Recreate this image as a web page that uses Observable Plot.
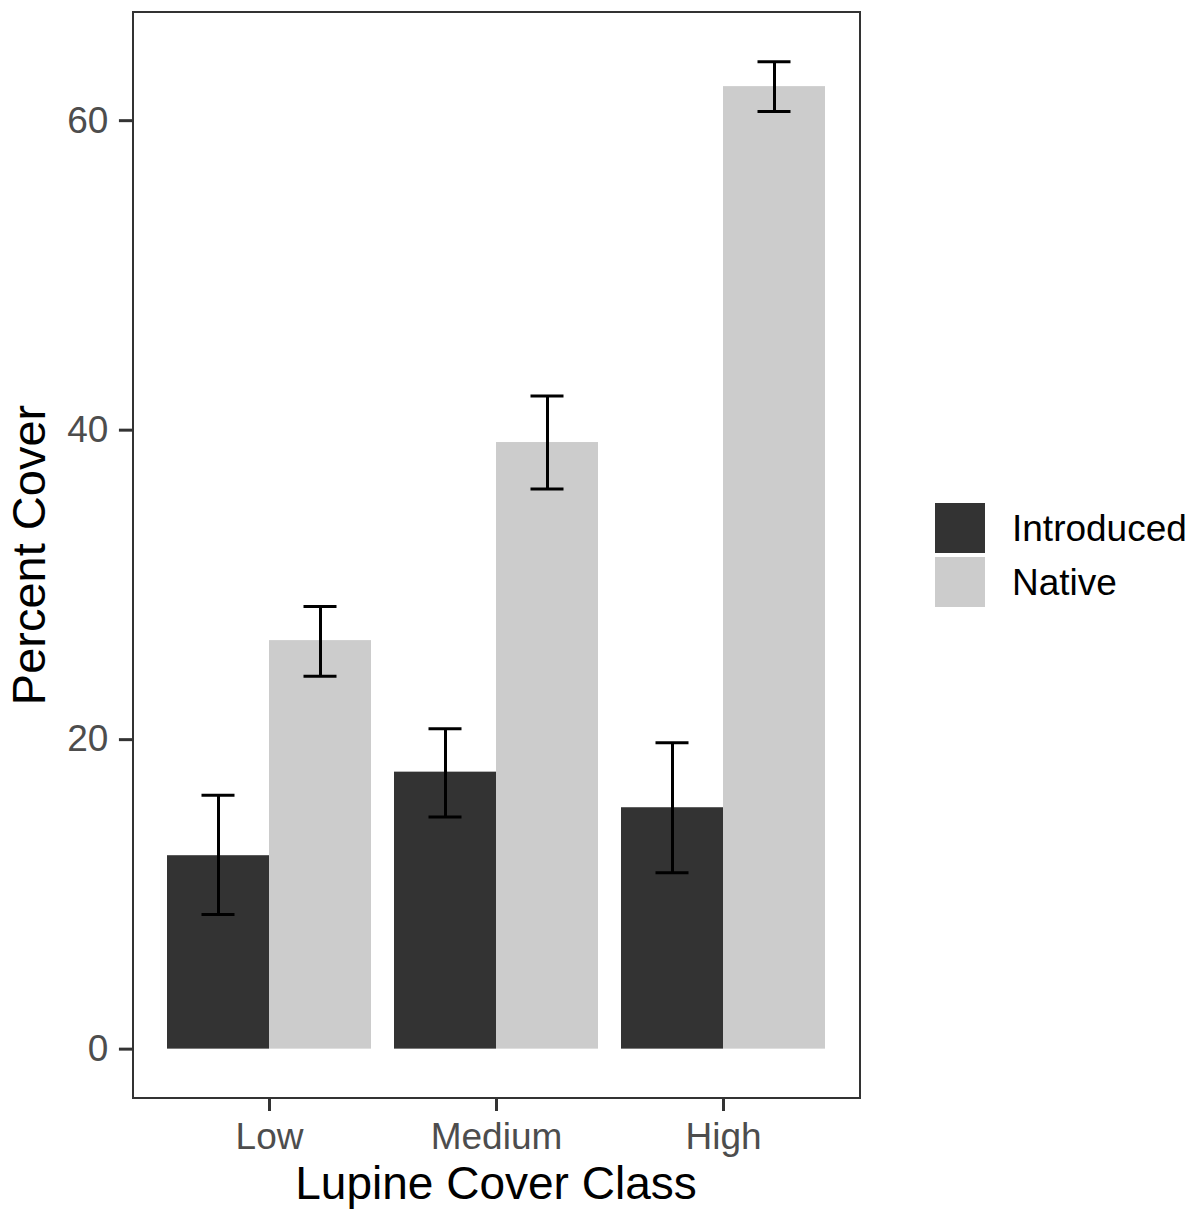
<!DOCTYPE html>
<html>
<head>
<meta charset="utf-8">
<script src="https://cdn.jsdelivr.net/npm/d3@7"></script>
<script src="https://cdn.jsdelivr.net/npm/@observablehq/plot@0.6"></script>
<style>
  html, body { margin: 0; padding: 0; background: #ffffff; }
  body { font-family: "Liberation Sans", Arial, Helvetica, sans-serif; }
  #wrap { position: relative; width: 1193px; height: 1209px; overflow: hidden; }
  #wrap svg { position: absolute; left: 0; top: 0; }
  .title { position: absolute; font-size: 46px; line-height: 38px; color: #000; white-space: nowrap; }
  #ytitle { left: 29px; top: 555px; transform: translate(-50%, -50%) rotate(-90deg); font-size: 47px; }
  #xtitle { left: 496px; top: 1183px; transform: translate(-50%, -50%); }
  #legend { position: absolute; left: 935px; top: 503px; }
  .item { display: flex; align-items: center; height: 50px; margin-bottom: 4px; }
  .key { width: 50px; height: 50px; }
  .lab { margin-left: 27px; font-size: 37px; line-height: 1; color: #000; white-space: nowrap; }
</style>
</head>
<body>
<div id="wrap">
  <div id="ytitle" class="title">Percent Cover</div>
  <div id="xtitle" class="title">Lupine Cover Class</div>
  <div id="legend"></div>
</div>
<script>
// ---- data ----
const classes = ["Low", "Medium", "High"];
const groups = ["Introduced", "Native"];
const introducedMean  = [12.5, 17.9, 15.6];
const introducedLower = [8.7, 15.0, 11.4];
const introducedUpper = [16.4, 20.7, 19.8];
const nativeMean  = [26.4, 39.2, 62.2];
const nativeLower = [24.1, 36.2, 60.6];
const nativeUpper = [28.6, 42.2, 63.8];
const yTicks = [0, 20, 40, 60];

// table built from the arrays
const rows = classes.flatMap((c, i) => [
  {cls: c, group: groups[0], mean: introducedMean[i], lower: introducedLower[i], upper: introducedUpper[i]},
  {cls: c, group: groups[1], mean: nativeMean[i], lower: nativeLower[i], upper: nativeUpper[i]}
]);

const W = 1193, H = 1209;
const mL = 133, mR = 333, mT = 12, mB = 111;
const padIn = 0.1, padOut = 0.15;
const yMax = d3.max(rows, d => d.upper);
const pad = yMax * 0.05;
// distance from panel edge to first facet band (fx outer padding), so the y axis sits on the panel border
const fxStep = (W - mL - mR) / (classes.length - padIn + 2 * padOut);
const axisShift = fxStep * padOut;

const plot = Plot.plot({
  width: W,
  height: H,
  marginLeft: mL,
  marginRight: mR,
  marginTop: mT,
  marginBottom: mB,
  style: {background: "transparent", fontFamily: "'Liberation Sans', Arial, sans-serif"},
  fx: {domain: classes, paddingInner: padIn, paddingOuter: padOut, label: null},
  x: {domain: groups, padding: 0, axis: null},
  y: {domain: [0 - pad, yMax + pad], label: null},
  color: {domain: groups, range: ["#333333", "#cccccc"]},
  marks: [
    Plot.barY(rows, {fx: "cls", x: "group", y: "mean", fill: "group", inset: 0}),
    Plot.ruleX(rows, {fx: "cls", x: "group", y1: "lower", y2: "upper", stroke: "#000", strokeWidth: 3}),
    Plot.tickY(rows, {fx: "cls", x: "group", y: "upper", stroke: "#000", strokeWidth: 3, insetLeft: 34.5, insetRight: 34.5}),
    Plot.tickY(rows, {fx: "cls", x: "group", y: "lower", stroke: "#000", strokeWidth: 3, insetLeft: 34.5, insetRight: 34.5}),
    Plot.axisY({ticks: yTicks, dx: -axisShift, tickSize: 14, tickPadding: 11, fontSize: 37, stroke: "#333333", fill: "#4d4d4d", strokeWidth: 3, label: null}),
    Plot.axisFx({anchor: "bottom", tickSize: 13, tickPadding: 11, fontSize: 37, stroke: "#333333", fill: "#4d4d4d", strokeWidth: 3, label: null})
  ]
});

document.getElementById("wrap").insertBefore(plot, document.getElementById("wrap").firstChild);

// panel border
d3.select(plot).append("rect")
  .attr("x", mL).attr("y", mT)
  .attr("width", W - mL - mR).attr("height", H - mT - mB)
  .attr("fill", "none").attr("stroke", "#333333").attr("stroke-width", 2);

// legend from the color scale
const cs = plot.scale("color");
const legend = d3.select("#legend");
cs.domain.forEach((g, i) => {
  const it = legend.append("div").attr("class", "item");
  it.append("div").attr("class", "key").style("background", cs.range[i]);
  it.append("div").attr("class", "lab").text(g);
});
</script>
</body>
</html>
